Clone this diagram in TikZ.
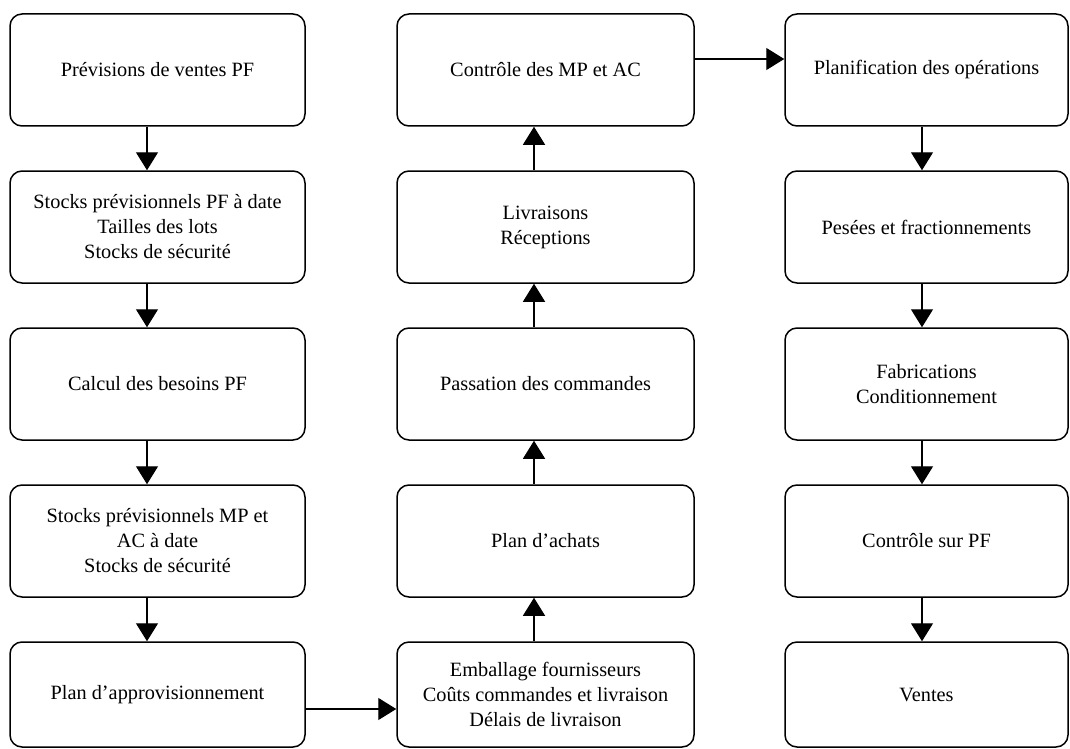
\documentclass[tikz,border=0pt]{standalone}
\usepackage{fontspec}
\setmainfont{Liberation Serif}
\usetikzlibrary{arrows.meta}
\begin{document}
\begin{tikzpicture}[
  box/.style={draw, line width=1.5pt, rounded corners=12pt, align=center, inner sep=0pt,
    font=\fontsize{20.3}{25}\selectfont},
  w1/.style={minimum width=295pt},
  w2/.style={minimum width=297pt},
  w3/.style={minimum width=283pt},
  hh/.style={minimum height=112pt},
  arr/.style={line width=1.3pt, -{Triangle[length=18pt,width=22pt]}}
]
\useasboundingbox (0,0) rectangle (1070pt,-749pt);
% column 1
\node[box,w1,hh] (a1) at (157.5pt,-70pt) {Prévisions de ventes PF};
\node[box,w1,hh] (a2) at (157.5pt,-227pt) {Stocks prévisionnels PF à date\\Tailles des lots\\Stocks de sécurité};
\node[box,w1,hh] (a3) at (157.5pt,-384pt) {Calcul des besoins PF};
\node[box,w1,hh] (a4) at (157.5pt,-541pt) {Stocks prévisionnels MP et\\AC à date\\Stocks de sécurité};
\node[box,w1,minimum height=105pt] (a5) at (157.5pt,-694.5pt) {Plan d’approvisionnement};
% column 2
\node[box,w2,hh] (b1) at (545.5pt,-70pt) {Contrôle des MP et AC};
\node[box,w2,hh] (b2) at (545.5pt,-227pt) {Livraisons\\Réceptions};
\node[box,w2,hh] (b3) at (545.5pt,-384pt) {Passation des commandes};
\node[box,w2,hh] (b4) at (545.5pt,-541pt) {Plan d’achats};
\node[box,w2,minimum height=105pt] (b5) at (545.5pt,-694.5pt) {Emballage fournisseurs\\Coûts commandes et livraison\\Délais de livraison};
% column 3
\node[box,w3,hh] (c1) at (926.5pt,-70pt) {Planification des opérations};
\node[box,w3,hh] (c2) at (926.5pt,-227pt) {Pesées et fractionnements};
\node[box,w3,hh] (c3) at (926.5pt,-384pt) {Fabrications\\Conditionnement};
\node[box,w3,hh] (c4) at (926.5pt,-541pt) {Contrôle sur PF};
\node[box,w3,minimum height=105pt] (c5) at (926.5pt,-694.5pt) {Ventes};
% arrows column 1 (down)
\draw[arr] ([xshift=-10.5pt]a1.south) -- ([xshift=-10.5pt]a2.north);
\draw[arr] ([xshift=-10.5pt]a2.south) -- ([xshift=-10.5pt]a3.north);
\draw[arr] ([xshift=-10.5pt]a3.south) -- ([xshift=-10.5pt]a4.north);
\draw[arr] ([xshift=-10.5pt]a4.south) -- ([xshift=-10.5pt]a5.north);
% bottom horizontal
\draw[arr] ([yshift=-14.5pt]a5.east) -- ([yshift=-14.5pt]b5.west);
% arrows column 2 (up)
\draw[arr] ([xshift=-11.5pt]b5.north) -- ([xshift=-11.5pt]b4.south);
\draw[arr] ([xshift=-11.5pt]b4.north) -- ([xshift=-11.5pt]b3.south);
\draw[arr] ([xshift=-11.5pt]b3.north) -- ([xshift=-11.5pt]b2.south);
\draw[arr] ([xshift=-11.5pt]b2.north) -- ([xshift=-11.5pt]b1.south);
% top horizontal
\draw[arr] ([yshift=11pt]b1.east) -- ([yshift=11pt]c1.west);
% arrows column 3 (down)
\draw[arr] ([xshift=-4.5pt]c1.south) -- ([xshift=-4.5pt]c2.north);
\draw[arr] ([xshift=-4.5pt]c2.south) -- ([xshift=-4.5pt]c3.north);
\draw[arr] ([xshift=-4.5pt]c3.south) -- ([xshift=-4.5pt]c4.north);
\draw[arr] ([xshift=-4.5pt]c4.south) -- ([xshift=-4.5pt]c5.north);
\end{tikzpicture}
\end{document}
